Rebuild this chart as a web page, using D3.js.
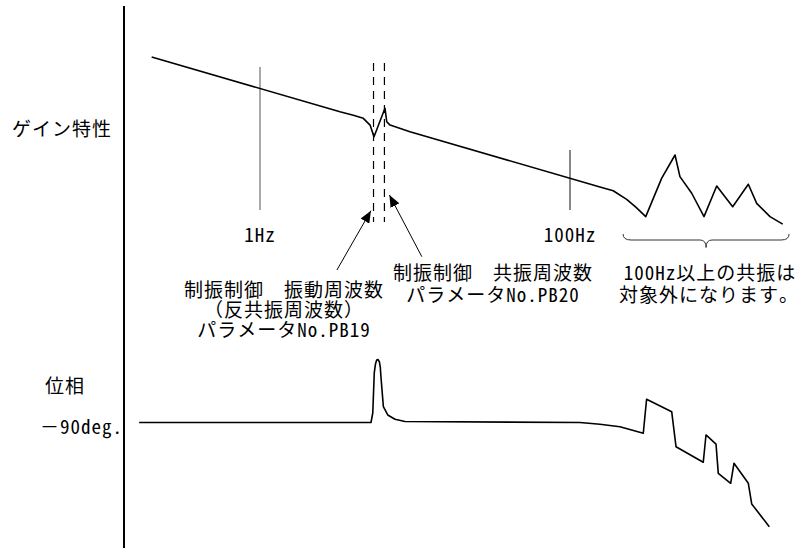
<!DOCTYPE html>
<html>
<head>
<meta charset="utf-8">
<script src="https://cdn.jsdelivr.net/npm/d3@7"></script>
<style>
  body { margin: 0; background: #fff; }
  svg text { font-family: "Noto Sans Mono CJK JP", "Noto Sans CJK JP", sans-serif; font-size: 19px; letter-spacing: 1px; fill: #000; }
</style>
</head>
<body>
<svg id="chart" width="807" height="548"></svg>
<script>
// gain characteristic (Hz, dB)
const gainFreq = [0.2, 3.28, 4.0, 4.64, 5.13, 5.44, 6.4, 6.57, 6.9, 7.62, 9.28, 156, 190, 232, 267, 308,
  390, 476, 512, 610, 732, 884, 1121, 1414, 1601, 1951, 2357];
const gainDb = [14.0, -10.4, -11.9, -13.3, -16.3, -21.5, -8.8, -14.8, -16.3, -17.3, -19.3, -43.8, -45.5, -49.3, -52.9, -57.0,
  -40.0, -29.6, -39.2, -46.6, -57.0, -43.4, -52.6, -42.6, -51.1, -57.0, -60.3];

// phase characteristic (Hz, deg)
const phaseFreq = [0.166, 5.2, 5.34, 5.46, 5.56, 5.66, 5.77, 5.89, 5.97, 6.03, 6.25, 6.67, 7.43, 8.62, 116, 156, 210, 297,
  312, 453, 483, 724, 754, 875, 905, 1088, 1143, 1414, 1487, 1931];
const phaseDeg = [-90, -90, -83.2, -54.6, -48.2, -45.4, -45.0, -46.6, -50.4, -57.3, -78.7, -84.6, -87.7, -89.3, -90, -91.3, -93.0, -97.7,
  -73.4, -82.3, -107.3, -118.4, -98.9, -105.4, -126.3, -133.4, -119.1, -133.4, -148.2, -164.4];

const tickFreqs = [1, 100];
const tickLabels = ["1Hz", "100Hz"];
const markFreqs = [5.4, 6.35];          // anti-resonance / resonance
const braceFreqs = [220, 2590];          // resonances above 100Hz

const svg = d3.select("#chart");

const x = d3.scaleLog().domain([1, 100]).range([260, 570]);
const yGain = d3.scaleLinear().domain([0, -40]).range([88.4, 178.4]);
const yPhase = d3.scaleLinear().domain([-90, -180]).range([422.5, 548.5]);

// vertical axis
svg.append("line")
  .attr("x1", 124).attr("x2", 124).attr("y1", 6).attr("y2", 548)
  .attr("stroke", "#000").attr("stroke-width", 2);

// frequency tick lines
const tickTop = [67, 150];
tickFreqs.forEach((f, i) => {
  svg.append("line")
    .attr("x1", x(f)).attr("x2", x(f)).attr("y1", tickTop[i]).attr("y2", 210)
    .attr("stroke", i === 0 ? "#555" : "#111").attr("stroke-width", 1);
  svg.append("text")
    .attr("x", x(f)).attr("y", 233)
    .attr("text-anchor", "middle").attr("dominant-baseline", "central")
    .text(tickLabels[i]);
});

// dashed lines at the vibration frequencies
markFreqs.forEach(f => {
  svg.append("line")
    .attr("x1", x(f)).attr("x2", x(f)).attr("y1", 63).attr("y2", 222)
    .attr("stroke", "#000").attr("stroke-width", 1.2)
    .attr("stroke-dasharray", "8,6");
});

const gainLine = d3.line()
  .x((d, i) => x(gainFreq[i]))
  .y(d => yGain(d));

svg.append("path")
  .attr("d", gainLine(gainDb))
  .attr("fill", "none").attr("stroke", "#000").attr("stroke-width", 1.6)
  .attr("stroke-linejoin", "round");

const phaseLine = d3.line()
  .x((d, i) => x(phaseFreq[i]))
  .y(d => yPhase(d));

svg.append("path")
  .attr("d", phaseLine(phaseDeg))
  .attr("fill", "none").attr("stroke", "#000").attr("stroke-width", 1.6)
  .attr("stroke-linejoin", "round");

// arrows
svg.append("defs").append("marker")
  .attr("id", "head")
  .attr("viewBox", "0 0 12 10")
  .attr("refX", 12).attr("refY", 5)
  .attr("markerWidth", 12).attr("markerHeight", 10)
  .attr("markerUnits", "userSpaceOnUse")
  .attr("orient", "auto")
  .append("path").attr("d", "M0,0 L12,5 L0,10 Z").attr("fill", "#000");

const arrows = [
  { from: [x(markFreqs[0]) - 36.6, 270], to: [x(markFreqs[0]) - 2.6, 210.7] },
  { from: [x(markFreqs[1]) + 37.4, 256.7], to: [x(markFreqs[1]) + 5, 195] }
];
arrows.forEach(a => {
  svg.append("line")
    .attr("x1", a.from[0]).attr("y1", a.from[1])
    .attr("x2", a.to[0]).attr("y2", a.to[1])
    .attr("stroke", "#000").attr("stroke-width", 1)
    .attr("marker-end", "url(#head)");
});

// brace under the high-frequency resonances
const bx0 = x(braceFreqs[0]), bx1 = x(braceFreqs[1]), bm = (bx0 + bx1) / 2;
svg.append("path")
  .attr("d", `M${bx0},234 Q${bx0},240 ${bx0 + 8},240 L${bm - 6},240 Q${bm},240 ${bm},247.5 ` +
             `Q${bm},240 ${bm + 6},240 L${bx1 - 8},240 Q${bx1},240 ${bx1},234`)
  .attr("fill", "none").attr("stroke", "#333").attr("stroke-width", 1);

// labels
const labels = [
  { t: "ゲイン特性", x: 12, y: 127, a: "start" },
  { t: "位相", x: 45, y: 384, a: "start" },
  { t: "－90deg.", x: 40, y: 425, a: "start" },
  { t: "制振制御　振動周波数", x: 284, y: 288, a: "middle" },
  { t: "（反共振周波数）", x: 284, y: 308, a: "middle" },
  { t: "パラメータNo.PB19", x: 284, y: 328, a: "middle" },
  { t: "制振制御　共振周波数", x: 493, y: 271, a: "middle" },
  { t: "パラメータNo.PB20", x: 493, y: 293, a: "middle" },
  { t: "100Hz以上の共振は", x: 710, y: 271, a: "middle" },
  { t: "対象外になります。", x: 709, y: 293, a: "middle" }
];
svg.selectAll("text.lab")
  .data(labels)
  .enter().append("text")
  .attr("class", "lab")
  .attr("x", d => d.x).attr("y", d => d.y)
  .attr("text-anchor", d => d.a)
  .attr("dominant-baseline", "central")
  .text(d => d.t);
</script>
</body>
</html>
